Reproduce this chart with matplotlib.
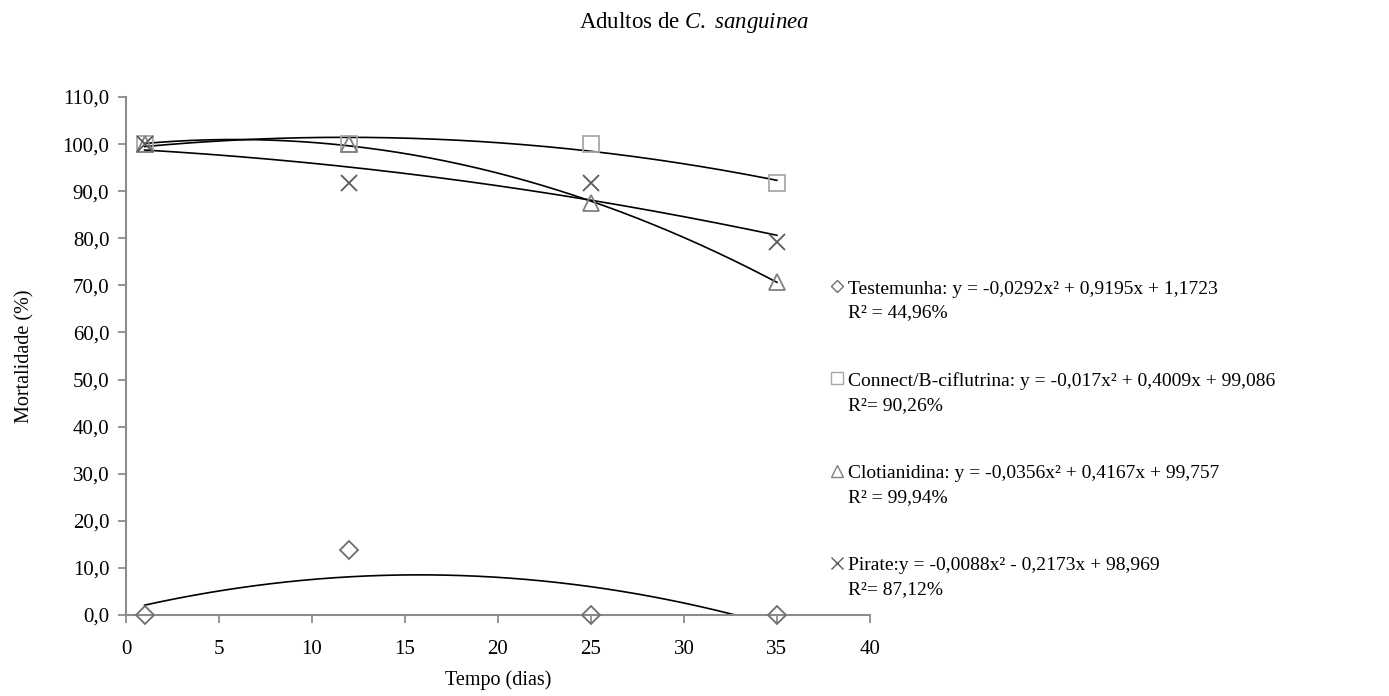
import numpy as np
import matplotlib
matplotlib.use("Agg")
import matplotlib.pyplot as plt
from matplotlib.lines import Line2D

plt.rcParams['font.family'] = ['Liberation Serif', 'DejaVu Serif']
plt.rcParams['mathtext.fontset'] = 'custom'
plt.rcParams['mathtext.rm'] = 'Liberation Serif'
plt.rcParams['mathtext.it'] = 'Liberation Serif:italic'

days = [1, 12, 25, 35]
testemunha = [0.0, 13.8, 0.0, 0.0]
connect = [100.0, 100.0, 100.0, 91.7]
clotianidina = [100.0, 100.0, 87.5, 70.8]
pirate = [100.0, 91.7, 91.7, 79.2]

labels = [
    "Testemunha: y = -0,0292x² + 0,9195x + 1,1723\nR² = 44,96%",
    "Connect/B-ciflutrina: y = -0,017x² + 0,4009x + 99,086\nR²= 90,26%",
    "Clotianidina: y = -0,0356x² + 0,4167x + 99,757\nR² = 99,94%",
    "Pirate:y = -0,0088x² - 0,2173x + 98,969\nR²= 87,12%",
]
series = [testemunha, connect, clotianidina, pirate]
markers = ['D', 's', '^', 'x']
msizes = [9, 12, 12, 12]
mcolors = ['#6e6e6e', '#a8a8a8', '#808080', '#5a5a5a']

W, H = 1389, 696
fig = plt.figure(figsize=(W / 100, H / 100), dpi=100)
ax = fig.add_axes([0.0907, 0.1164, 0.5356, 0.7442])

x_fit = np.linspace(min(days), max(days), 200)
for ys, m, ms, c in zip(series, markers, msizes, mcolors):
    coef = np.polyfit(days, ys, 2)
    ax.plot(x_fit, np.polyval(coef, x_fit), color='black', lw=1.2, zorder=2)
    if m == 'x':
        ax.plot(days, ys, linestyle='none', marker=m, markersize=ms,
                color=c, markeredgewidth=1.3, zorder=3, clip_on=False)
    else:
        ax.plot(days, ys, linestyle='none', marker=m, markersize=ms,
                markerfacecolor='none', markeredgecolor=c, markeredgewidth=1.3,
                zorder=3, clip_on=False)

ax.set_xlim(0, 40)
ax.set_ylim(0, 110)
ax.set_xticks(np.arange(0, 41, 5))
ax.set_yticks(np.arange(0, 111, 10))
ax.set_yticklabels([f"{v:.1f}".replace('.', ',') for v in np.arange(0, 111, 10)])

for s in ['top', 'right']:
    ax.spines[s].set_visible(False)
for s in ['left', 'bottom']:
    ax.spines[s].set_color('#8c8c8c')
    ax.spines[s].set_linewidth(1.5)
ax.tick_params(axis='both', direction='out', length=6, width=1.3, color='#8c8c8c',
               labelsize=15, labelcolor='black')
ax.tick_params(axis='x', pad=12)
ax.tick_params(axis='y', pad=6)

ax.set_xlabel("Tempo (dias)", fontsize=14.5, labelpad=8)
ax.set_ylabel("Mortalidade (%)", fontsize=14.5, labelpad=20)

fig.text(0.5, 0.967, r"Adultos de $\mathit{C.\ sanguinea}$", ha='center', va='center',
         fontsize=16.5)

# Legend drawn manually: marker aligned with the first line of each entry
first_y = 289
step = 92.3
line_gap = 24
mark_x = 837
text_x = 848
for i, (lab, m, c) in enumerate(zip(labels, markers, mcolors)):
    y = first_y + i * step
    hs = 6 if m == 'D' else 9
    my = y - 3
    if m == 'x':
        h = Line2D([mark_x / W], [1 - my / H], transform=fig.transFigure,
                   linestyle='none', marker=m, markersize=hs, color=c,
                   markeredgewidth=1.0)
    else:
        h = Line2D([mark_x / W], [1 - my / H], transform=fig.transFigure,
                   linestyle='none', marker=m, markersize=hs,
                   markerfacecolor='none', markeredgecolor=c, markeredgewidth=1.0)
    fig.add_artist(h)
    for j, part in enumerate(lab.split('\n')):
        fig.text(text_x / W, 1 - (y + j * line_gap) / H, part, ha='left',
                 va='center', fontsize=14)

fig.savefig("out.png", dpi=100)
